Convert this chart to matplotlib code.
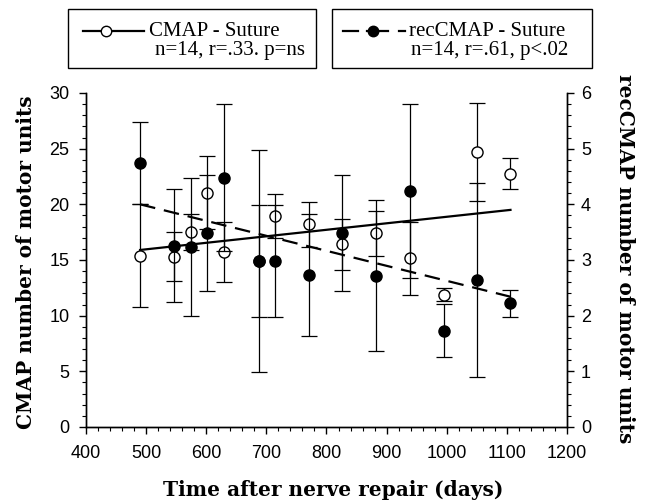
import numpy as np
import matplotlib.pyplot as plt
from matplotlib.lines import Line2D
from matplotlib.patches import Rectangle
from matplotlib.ticker import MultipleLocator

#---------------------------DATA------------------------------------
days = [490, 546, 574, 602, 630, 687, 715, 771, 826, 883, 939, 995, 1050, 1106]

# CMAP - Suture (open circles, left axis)
cmap = [15.4, 15.3, 17.5, 21.05, 15.7, 14.9, 18.95, 18.2, 16.4, 17.4, 15.15, 11.9, 24.7, 22.75]
cmap_err = [4.6, 2.2, 1.6, 3.25, 2.7, 5.0, 1.95, 2.0, 2.3, 2.0, 3.3, 0.6, 4.4, 1.4]

# recCMAP - Suture (filled circles, right axis)
rec = [4.74, 3.26, 3.24, 3.49, 4.48, 2.98, 2.98, 2.73, 3.48, 2.72, 4.24, 1.73, 2.64, 2.22]
rec_err = [0.74, 1.02, 1.24, 1.04, 1.32, 2.0, 1.0, 1.1, 1.04, 1.36, 1.56, 0.48, 1.74, 0.24]

# regression lines
fit_days = [490, 1106]
cmap_fit = [15.9, 19.5]
rec_fit = [4.0, 2.34]

#---------------------------FIGURE------------------------------------
serif = "Liberation Serif"
lab_font = "DejaVu Serif"
sans = "Liberation Sans"

fig = plt.figure(figsize=(6.5, 5.04), dpi=100)
ax = fig.add_axes([0.1323, 0.1528, 0.74, 0.6627])
ax2 = ax.twinx()

# open circles - CMAP
ax.errorbar(days, cmap, yerr=cmap_err, fmt="none", ecolor="black",
            elinewidth=0.9, capsize=6, capthick=0.9, zorder=2)
ax.plot(fit_days, cmap_fit, color="black", lw=1.6, zorder=3)
ax.plot(days, cmap, "o", ms=8, mfc="white", mec="black", mew=1.0, zorder=4)

# filled circles - recCMAP
ax2.errorbar(days, rec, yerr=rec_err, fmt="none", ecolor="black",
             elinewidth=0.9, capsize=6, capthick=0.9, zorder=2)
ax2.plot(fit_days, rec_fit, color="black", lw=1.6, dashes=(7, 4), zorder=3)
ax2.plot(days, rec, "o", ms=8, mfc="black", mec="black", zorder=5)

ax.set_xlim(400, 1200)
ax.set_ylim(0, 30)
ax2.set_ylim(0, 6)

ax.xaxis.set_major_locator(MultipleLocator(100))
ax.xaxis.set_minor_locator(MultipleLocator(20))
ax.yaxis.set_major_locator(MultipleLocator(5))
ax.yaxis.set_minor_locator(MultipleLocator(1))
ax2.yaxis.set_major_locator(MultipleLocator(1))
ax2.yaxis.set_minor_locator(MultipleLocator(0.2))

for a in (ax, ax2):
    a.spines["top"].set_visible(False)
    for s in a.spines.values():
        s.set_linewidth(1.0)
    a.tick_params(which="major", direction="out", length=5, width=1.0,
                  labelsize=13)
    a.tick_params(which="minor", direction="out", length=3, width=0.8)
    for lab in a.get_xticklabels() + a.get_yticklabels():
        lab.set_fontfamily(sans)

ax.tick_params(axis="x", pad=8)
ax.tick_params(axis="y", pad=7)
ax2.tick_params(axis="y", pad=5)

tf = fig.transFigure
ax.set_xlabel("Time after nerve repair (days)", fontsize=14.5,
              fontweight="bold", family=lab_font, va="center")
ax.xaxis.set_label_coords(0.512, 1 - 490 / 504.0, transform=tf)
ax.set_ylabel("CMAP number of motor units", fontsize=14.5,
              fontweight="bold", family=lab_font, va="center", ha="center")
ax.yaxis.set_label_coords(26 / 650.0, 1 - 262 / 504.0, transform=tf)
ax2.set_ylabel("recCMAP number of motor units", fontsize=14.5,
               fontweight="bold", family=lab_font, rotation=-90,
               va="center", ha="center")
ax2.yaxis.set_label_coords(625 / 650.0, 1 - 259 / 504.0, transform=tf)

#---------------------------LEGEND BOXES------------------------------
def W(px):
    return px / 650.0

def H(py):
    return 1 - py / 504.0

fig.add_artist(Rectangle((W(68), H(68)), W(248), 59 / 504.0, transform=tf,
                         fill=False, lw=1.0, ec="black"))
fig.add_artist(Rectangle((W(332), H(68)), W(260), 59 / 504.0, transform=tf,
                         fill=False, lw=1.0, ec="black"))

# solid line + open circle
fig.add_artist(Line2D([W(83), W(144)], [H(31), H(31)], transform=tf,
                      color="black", lw=1.6))
fig.add_artist(Line2D([W(106)], [H(31)], transform=tf, marker="o", ms=7.5,
                      mfc="white", mec="black", lw=0))
fig.text(W(149), H(31), "CMAP - Suture", family=serif, fontsize=15,
         va="center", ha="left")
fig.text(W(155), H(50), "n=14, r=.33. p=ns", family=serif, fontsize=15,
         va="center", ha="left")

# dashed line + filled circle
for x1, x2 in [(343, 358), (367, 388), (399, 405)]:
    fig.add_artist(Line2D([W(x1), W(x2)], [H(31), H(31)], transform=tf,
                          color="black", lw=1.6))
fig.add_artist(Line2D([W(373)], [H(31)], transform=tf, marker="o", ms=7.5,
                      mfc="black", mec="black", lw=0))
fig.text(W(409), H(31), "recCMAP - Suture", family=serif, fontsize=15,
         va="center", ha="left")
fig.text(W(411), H(50), "n=14, r=.61, p<.02", family=serif, fontsize=15,
         va="center", ha="left")

fig.savefig("out.png", dpi=100)
